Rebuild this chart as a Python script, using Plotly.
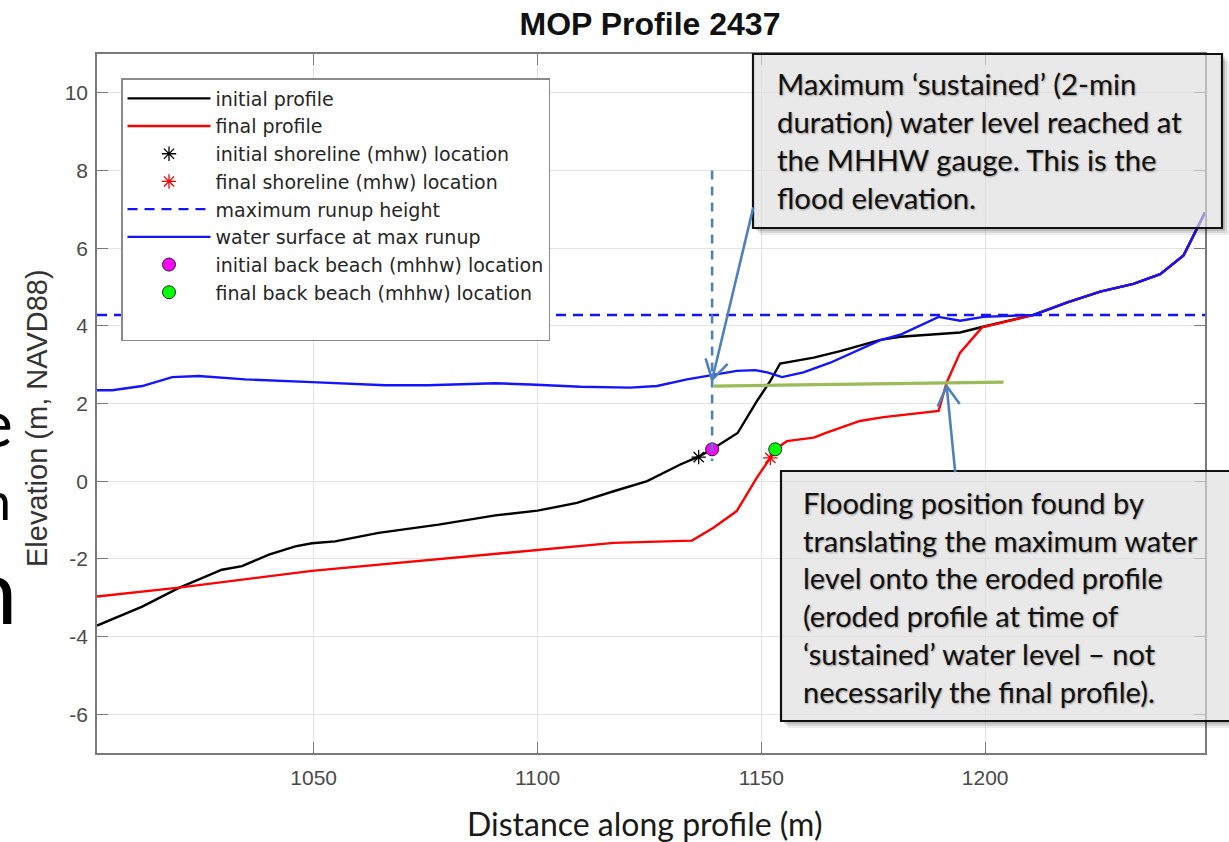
import plotly.graph_objects as go

# ---------------- data ----------------
initial_x = [1001.6, 1011.7, 1019.9, 1029.5, 1034.0, 1040.0, 1045.9, 1049.6, 1054.8, 1064.5,
             1077.9, 1090.6, 1100.0, 1108.8, 1117.0, 1124.5, 1131.9, 1136.0, 1139.0, 1144.7,
             1149.0, 1152.0, 1154.2, 1161.7, 1167.6, 1176.6, 1181.0, 1194.4, 1199.3, 1210.8,
             1218.2, 1225.7, 1233.1, 1239.1, 1244.3, 1249.1]
initial_y = [-3.72, -3.23, -2.75, -2.28, -2.19, -1.89, -1.68, -1.60, -1.55, -1.33,
             -1.12, -0.88, -0.76, -0.56, -0.26, 0.00, 0.43, 0.63, 0.82, 1.24,
             2.06, 2.58, 3.03, 3.18, 3.35, 3.64, 3.72, 3.83, 3.97, 4.28,
             4.60, 4.88, 5.08, 5.33, 5.81, 6.92]

final_x = [1001.6, 1019.9, 1049.6, 1090.0, 1100.0, 1117.0, 1134.5, 1139.3, 1144.5, 1149.0,
           1152.0, 1153.1, 1155.7, 1161.7, 1164.6, 1172.0, 1177.3, 1189.6, 1191.4, 1194.4,
           1199.3, 1210.8, 1218.2, 1225.7, 1233.1, 1239.1, 1244.3, 1249.1]
final_y = [-2.97, -2.74, -2.31, -1.88, -1.79, -1.59, -1.53, -1.20, -0.77, 0.09,
           0.60, 0.82, 1.03, 1.12, 1.25, 1.55, 1.65, 1.81, 2.54, 3.31,
           3.96, 4.28, 4.60, 4.88, 5.08, 5.33, 5.81, 6.92]

water_x = [1001.6, 1005.0, 1011.7, 1018.4, 1024.3, 1034.7, 1049.6, 1066.0, 1075.6, 1090.6,
           1098.4, 1109.6, 1120.7, 1126.7, 1133.4, 1139.3, 1144.5, 1148.6, 1151.3, 1154.6,
           1159.4, 1165.4, 1170.6, 1176.6, 1181.0, 1189.6, 1194.4, 1199.6, 1210.8, 1218.2,
           1225.7, 1233.1, 1239.1, 1244.3, 1249.1]
water_y = [2.34, 2.34, 2.45, 2.68, 2.71, 2.62, 2.55, 2.47, 2.47, 2.52,
           2.49, 2.43, 2.41, 2.45, 2.62, 2.74, 2.84, 2.86, 2.80, 2.68,
           2.80, 3.05, 3.31, 3.63, 3.77, 4.23, 4.13, 4.23, 4.28, 4.60,
           4.88, 5.08, 5.33, 5.81, 6.92]

runup_x = [1001.6, 1249.1]
runup_y = [4.28, 4.28]

init_shore_x, init_shore_y = [1136.0], [0.62]
final_shore_x, final_shore_y = [1152.0], [0.60]
init_back_x, init_back_y = [1139.0], [0.82]
final_back_x, final_back_y = [1153.1], [0.82]

x_ticks = [1050, 1100, 1150, 1200]
y_ticks = [-6, -4, -2, 0, 2, 4, 6, 8, 10]
x_range = [1001.6, 1249.1]
y_range = [-7, 11]

# slide overlay annotations (data coordinates)
flood_drop_x, flood_drop_y = [1139.0, 1139.0], [8.0, 0.52]
flood_level_x, flood_level_y = [1139.3, 1204.1], [2.45, 2.55]
arrow1_tail, arrow1_tip = (1148.2, 7.05), (1139.0, 2.61)
arrow2_tail, arrow2_tip = (1193.3, 0.23), (1191.4, 2.45)

box1_lines = ["Maximum \u2018sustained\u2019 (2-min",
              "duration) water level reached at",
              "the MHHW gauge. This is the",
              "flood elevation."]
box2_lines = ["Flooding position found by",
              "translating the maximum water",
              "level onto the eroded profile",
              "(eroded profile at time of",
              "\u2018sustained\u2019 water level \u2013 not",
              "necessarily the final profile)."]

# ---------------- layout geometry (pixels) ----------------
W, H = 1229, 842
PL, PR, PT, PB = 97, 1205, 54, 753


def xp(pix):
    return (pix - PL) / (PR - PL)


def yp(pix):
    return (PB - pix) / (PB - PT)


ARIAL = "Liberation Sans, Arial, sans-serif"
LEGF = "DejaVu Sans, Liberation Sans, sans-serif"
SLIDE = "Lato, Carlito, Calibri, sans-serif"

fig = go.Figure()
LW = 2.4
fig.add_trace(go.Scatter(x=initial_x, y=initial_y, mode="lines", name="initial profile",
                         line=dict(color="black", width=LW)))
fig.add_trace(go.Scatter(x=final_x, y=final_y, mode="lines", name="final profile",
                         line=dict(color="#ff0000", width=LW)))
fig.add_trace(go.Scatter(x=init_shore_x, y=init_shore_y, mode="markers",
                         name="initial shoreline (mhw) location",
                         marker=dict(symbol="asterisk-open", size=12, color="black",
                                     line=dict(color="black", width=1.3))))
fig.add_trace(go.Scatter(x=final_shore_x, y=final_shore_y, mode="markers",
                         name="final shoreline (mhw) location",
                         marker=dict(symbol="asterisk-open", size=12, color="#ff0000",
                                     line=dict(color="#ff0000", width=1.3))))
fig.add_trace(go.Scatter(x=runup_x, y=runup_y, mode="lines", name="maximum runup height",
                         line=dict(color="#1414ff", width=LW, dash="10px,7px")))
fig.add_trace(go.Scatter(x=water_x, y=water_y, mode="lines", name="water surface at max runup",
                         line=dict(color="#1414ff", width=LW)))
fig.add_trace(go.Scatter(x=init_back_x, y=init_back_y, mode="markers",
                         name="initial back beach (mhhw) location",
                         marker=dict(symbol="circle", size=13, color="#ff00ff",
                                     line=dict(color="#222222", width=1))))
fig.add_trace(go.Scatter(x=final_back_x, y=final_back_y, mode="markers",
                         name="final back beach (mhhw) location",
                         marker=dict(symbol="circle", size=13, color="#00ff00",
                                     line=dict(color="#222222", width=1))))
# empty legend row (MATLAB legend box has extra space at the bottom)
fig.add_trace(go.Scatter(x=[None], y=[None], mode="lines", name=" ",
                         line=dict(color="rgba(0,0,0,0)", width=0), hoverinfo="skip"))

shapes = []
annotations = []

# annotation boxes with soft shadow strips (paper coordinates, may extend past the axes)
for (x0, y0, x1, y1) in [(753, 54, 1222, 228), (781, 471, 1245, 721)]:
    for off, a in [(7, 0.07), (5, 0.09), (3, 0.12)]:
        shapes.append(dict(type="rect", xref="paper", yref="paper",
                           x0=xp(x1), x1=xp(x1 + off), y0=yp(y1 + off), y1=yp(y0 + off),
                           line=dict(width=0), fillcolor=f"rgba(0,0,0,{a})", layer="above"))
        shapes.append(dict(type="rect", xref="paper", yref="paper",
                           x0=xp(x0 + off), x1=xp(x1), y0=yp(y1 + off), y1=yp(y1),
                           line=dict(width=0), fillcolor=f"rgba(0,0,0,{a})", layer="above"))
    shapes.append(dict(type="rect", xref="paper", yref="paper",
                       x0=xp(x0), x1=xp(x1), y0=yp(y1), y1=yp(y0),
                       line=dict(color="#111111", width=2.2),
                       fillcolor="rgba(222,222,222,0.66)", layer="above"))

# vertical dashed drop line and green flood level line
shapes.append(dict(type="line", xref="x", yref="y",
                   x0=flood_drop_x[0], x1=flood_drop_x[1], y0=flood_drop_y[0], y1=flood_drop_y[1],
                   line=dict(color="#4F81BD", width=2.6, dash="9px,7px"), layer="above"))
shapes.append(dict(type="line", xref="x", yref="y",
                   x0=flood_level_x[0], x1=flood_level_x[1], y0=flood_level_y[0], y1=flood_level_y[1],
                   line=dict(color="#9BBB59", width=3.2), layer="above"))

# arrows: shaft in data coords, open V head in pixel offsets from the tip
for tail, tip, arms in [(arrow1_tail, arrow1_tip, [(15.5, 16.0), (-6.5, 21.5)]),
                        (arrow2_tail, arrow2_tip, [(-9.0, -20.5), (13.0, -18.0)])]:
    shapes.append(dict(type="line", xref="x", yref="y",
                       x0=tail[0], y0=tail[1], x1=tip[0], y1=tip[1],
                       line=dict(color="#4F81BD", width=2.6), layer="above"))
    (ax1, ay1), (ax2, ay2) = arms
    shapes.append(dict(type="path", xref="x", yref="y", xsizemode="pixel", ysizemode="pixel",
                       xanchor=tip[0], yanchor=tip[1],
                       path=f"M {ax1},{ay1} L 0,0 L {ax2},{ay2}",
                       line=dict(color="#4F81BD", width=2.6), layer="above"))

text_shadow = "1px 1px 2px rgba(0,0,0,0.35)"
annotations.append(dict(xref="paper", yref="paper", x=xp(775), y=yp(141),
                        xanchor="left", yanchor="middle", align="left", showarrow=False,
                        text="<br>".join(box1_lines),
                        font=dict(family=SLIDE, size=29.3, color="#111111", shadow=text_shadow)))
annotations.append(dict(xref="paper", yref="paper", x=xp(801), y=yp(597),
                        xanchor="left", yanchor="middle", align="left", showarrow=False,
                        text="<br>".join(box2_lines),
                        font=dict(family=SLIDE, size=29, color="#111111", shadow=text_shadow)))

# axis titles
annotations.append(dict(xref="paper", yref="paper", x=xp(644), y=yp(824),
                        xanchor="center", yanchor="middle", showarrow=False,
                        text="Distance along profile (m)",
                        font=dict(family=SLIDE, size=32, color="#1a1a1a")))
annotations.append(dict(xref="paper", yref="paper", x=xp(37), y=yp(418),
                        xanchor="center", yanchor="middle", showarrow=False, textangle=-90,
                        text="Elevation (m, NAVD88)",
                        font=dict(family=ARIAL, size=29, color="#333333")))

# fragments of slide text peeking in at the left edge (cut off in the reference too)
for ch, xr, yc, sz in [("e", 15, 421, 66), ("n", 13, 500, 52), ("n", 19, 588, 92)]:
    annotations.append(dict(xref="paper", yref="paper", x=xp(xr), y=yp(yc),
                            xanchor="right", yanchor="middle", showarrow=False, text=ch,
                            font=dict(family=SLIDE, size=sz, color="black")))

axis_common = dict(showline=True, linecolor="#7a7a7a", linewidth=1.5, mirror="ticks",
                   ticks="inside", ticklen=11, tickwidth=1.3, tickcolor="#7a7a7a",
                   showgrid=True, gridcolor="#e4e4e4", gridwidth=1, zeroline=False,
                   tickfont=dict(family=ARIAL, size=21, color="#4a4a4a"))

fig.update_layout(
    width=W, height=H, autosize=False,
    margin=dict(l=PL, r=W - PR, t=PT, b=H - PB, pad=0),
    paper_bgcolor="white", plot_bgcolor="white",
    title=dict(text="<b>MOP Profile 2437</b>", x=650 / W, xanchor="center",
               y=1 - 24 / H, yanchor="middle", font=dict(family=ARIAL, size=32, color="#111111")),
    xaxis=dict(range=x_range, tickvals=x_ticks, ticktext=[str(v) for v in x_ticks],
               ticklabelstandoff=5, **axis_common),
    yaxis=dict(range=y_range, tickvals=y_ticks, ticktext=[str(v) for v in y_ticks],
               ticklabelstandoff=3, **axis_common),
    legend=dict(x=xp(121), y=yp(78), xanchor="left", yanchor="top",
                bgcolor="white", bordercolor="#8a8a8a", borderwidth=1.5,
                font=dict(family=LEGF, size=19, color="#262626"),
                itemwidth=83, tracegroupgap=0),
    showlegend=True,
    shapes=shapes,
    annotations=annotations,
)

fig.write_html("out.html", config={"displayModeBar": False},
               post_script="document.body.style.margin='0';")
